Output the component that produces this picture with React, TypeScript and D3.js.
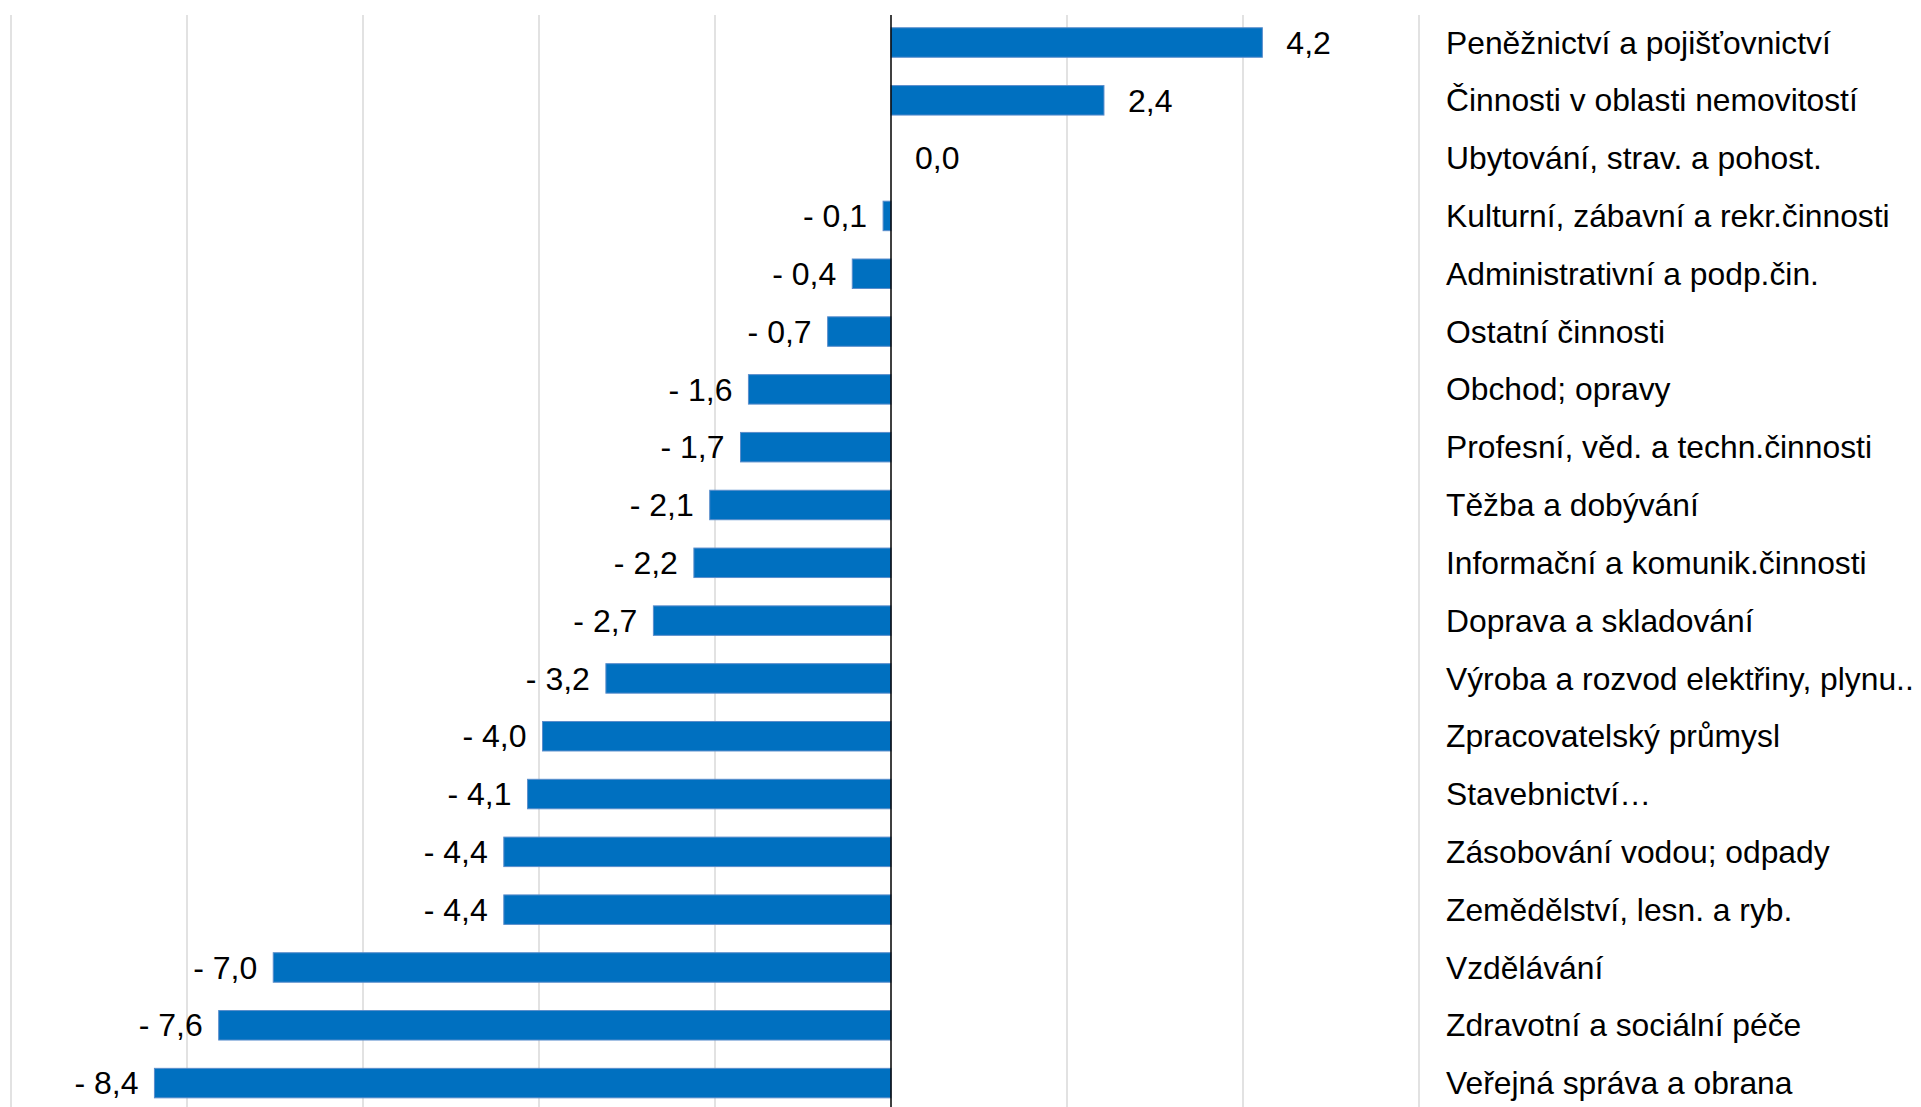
import React, { useEffect, useRef } from "react";
import * as d3 from "d3";

// Categories (top to bottom) and their values
const categories = [
  "Peněžnictví a pojišťovnictví",
  "Činnosti v oblasti nemovitostí",
  "Ubytování, strav. a pohost.",
  "Kulturní, zábavní a rekr.činnosti",
  "Administrativní a podp.čin.",
  "Ostatní činnosti",
  "Obchod; opravy",
  "Profesní, věd. a techn.činnosti",
  "Těžba a dobývání",
  "Informační a komunik.činnosti",
  "Doprava a skladování",
  "Výroba a rozvod elektřiny, plynu..",
  "Zpracovatelský průmysl",
  "Stavebnictví…",
  "Zásobování vodou; odpady",
  "Zemědělství, lesn. a ryb.",
  "Vzdělávání",
  "Zdravotní a sociální péče",
  "Veřejná správa a obrana",
];

// labels show one decimal
const values = [
  4.22, 2.42, 0.0, -0.09, -0.44, -0.72, -1.62, -1.71, -2.06, -2.24, -2.7,
  -3.24, -3.96, -4.13, -4.4, -4.4, -7.02, -7.64, -8.37,
];

const gridTicks = [-10, -8, -6, -4, -2, 2, 4, 6];

const App = () => {
  const divRef = useRef<HTMLDivElement>(null);

  useEffect(() => {
    if (!divRef.current) return;
    divRef.current.innerHTML = "";

    const width = 1921;
    const height = 1107;
    const font = "'Liberation Sans', Arial, sans-serif";

    const data = categories.map((c, i) => ({ name: c, value: values[i] }));

    const svg = d3
      .create("svg")
      .attr("width", width)
      .attr("height", height)
      .attr("viewBox", [0, 0, width, height])
      .style("position", "absolute")
      .style("left", "0px")
      .style("top", "0px")
      .style("background", "#fff");

    // x scale: -10 .. 6
    const x = d3.scaleLinear().domain([-10, 6]).range([11, 1419]);

    const y = d3
      .scaleBand()
      .domain(categories)
      .range([13.6, 1112])
      .paddingInner(0.49)
      .paddingOuter(0.245);

    const plotTop = 15;

    // gridlines
    svg
      .append("g")
      .selectAll("line")
      .data(gridTicks)
      .join("line")
      .attr("x1", (d) => x(d))
      .attr("x2", (d) => x(d))
      .attr("y1", plotTop)
      .attr("y2", height)
      .attr("stroke", "#D9D9D9")
      .attr("stroke-width", 1.5);

    // bars
    svg
      .append("g")
      .selectAll("rect")
      .data(data.filter((d) => d.value !== 0))
      .join("rect")
      .attr("x", (d) => x(Math.min(0, d.value)))
      .attr("y", (d) => y(d.name)!)
      .attr("width", (d) => Math.abs(x(d.value) - x(0)))
      .attr("height", y.bandwidth())
      .attr("fill", "#0070C0")
      .attr("stroke", "#5A8DCB")
      .attr("stroke-width", 1);

    // zero axis
    svg
      .append("line")
      .attr("x1", x(0))
      .attr("x2", x(0))
      .attr("y1", plotTop)
      .attr("y2", height)
      .attr("stroke", "#000")
      .attr("stroke-width", 1.5);

    const fmt = (v: number) => {
      const s = d3.format(".1f")(Math.abs(v)).replace(".", ",");
      return v < 0 ? `- ${s}` : s;
    };

    // value labels
    svg
      .append("g")
      .selectAll("text")
      .data(data)
      .join("text")
      .attr("x", (d) => (d.value < 0 ? x(d.value) - 16 : x(d.value) + 24))
      .attr("y", (d) => y(d.name)! + y.bandwidth() / 2)
      .attr("dy", "0.35em")
      .attr("text-anchor", (d) => (d.value < 0 ? "end" : "start"))
      .style("font-family", font)
      .style("font-size", "32px")
      .attr("fill", "#000")
      .text((d) => fmt(d.value));

    // category labels on the right
    svg
      .append("g")
      .selectAll("text")
      .data(data)
      .join("text")
      .attr("x", 1446)
      .attr("y", (d) => y(d.name)! + y.bandwidth() / 2)
      .attr("dy", "0.35em")
      .style("font-family", font)
      .style("font-size", "31.8px")
      .attr("fill", "#000")
      .text((d) => d.name);

    divRef.current.appendChild(svg.node()!);
  }, []);

  return <div ref={divRef} />;
};

export default App;
